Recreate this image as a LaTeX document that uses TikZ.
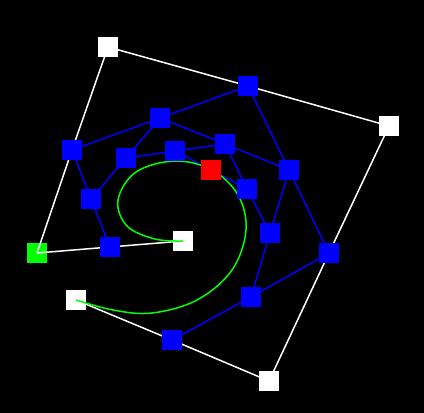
\documentclass[tikz,border=0pt]{standalone}
\pgfdeclarelayer{bg}
\pgfdeclarelayer{edges}
\pgfsetlayers{bg,edges,main}
\begin{document}
\begin{tikzpicture}[x=1pt,y=-1pt,
  sq/.style={rectangle, minimum size=20pt, inner sep=0pt, outer sep=0pt, draw=none},
  wsq/.style={sq, fill=white},
  bsq/.style={sq, fill=blue},
  gsq/.style={sq, fill=green},
  rsq/.style={sq, fill=red},
  wline/.style={draw=white, line width=1.5pt},
  bline/.style={draw=blue, line width=1.5pt},
  gcurve/.style={draw=green, line width=1.5pt}]
\begin{pgfonlayer}{bg}
  \fill[black] (0,0) rectangle (424,413);
  \node[gsq] (g) at (37,253) {};
  \node[wsq] (w1) at (108,47) {};
  \node[wsq] (w2) at (389,126) {};
  \node[wsq] (w3) at (269,381) {};
  \node[wsq] (w4) at (76,300) {};
  \node[wsq] (w5) at (183,241) {};
\end{pgfonlayer}
\node[bsq] (b1) at (248,86) {};
\node[bsq] (b2) at (160,118) {};
\node[bsq] (b3) at (72,150) {};
\node[bsq] (b4) at (126,158) {};
\node[bsq] (b5) at (175,151) {};
\node[bsq] (b6) at (225,144) {};
\node[bsq] (b7) at (289,170) {};
\node[bsq] (b8) at (247,189) {};
\node[bsq] (b9) at (91,199) {};
\node[bsq] (b10) at (110,247) {};
\node[bsq] (b11) at (270,233) {};
\node[bsq] (b12) at (329,253) {};
\node[bsq] (b13) at (251,297) {};
\node[bsq] (b14) at (172,340) {};
\node[rsq] (r) at (211,170) {};
\begin{pgfonlayer}{edges}
  \draw[wline] (w1.center) -- (b1.center) -- (w2.center);
  \draw[wline] (w2.center) -- (b12.center) -- (w3.center);
  \draw[wline] (w3.center) -- (b14.center) -- (w4.center);
  \draw[wline] (w1.center) -- (b3.center) -- (g.center);
  \draw[wline] (g.center) -- (b10.center) -- (w5.center);
  \foreach \a/\b in {b2/b3,b2/b1,b2/b4,b2/b6,b4/b5,b4/b9,b3/b9,b9/b10,b5/b6,b5/r,
                     b1/b7,b6/b7,b6/b8,r/b8,b8/b11,b7/b11,b7/b12,b11/b13,b12/b13,b13/b14}
    \draw[bline] (\a.center) -- (\b.center);
  \draw[gcurve] plot[smooth, tension=0.6] coordinates {(w4.center) (113,310) (152,313) (197,300) (232,270) (246,230) (238,195) (212,170) (175,161) (136,172) (118,200) (127,226) (155,239) (183,241)};
\end{pgfonlayer}
\end{tikzpicture}
\end{document}
